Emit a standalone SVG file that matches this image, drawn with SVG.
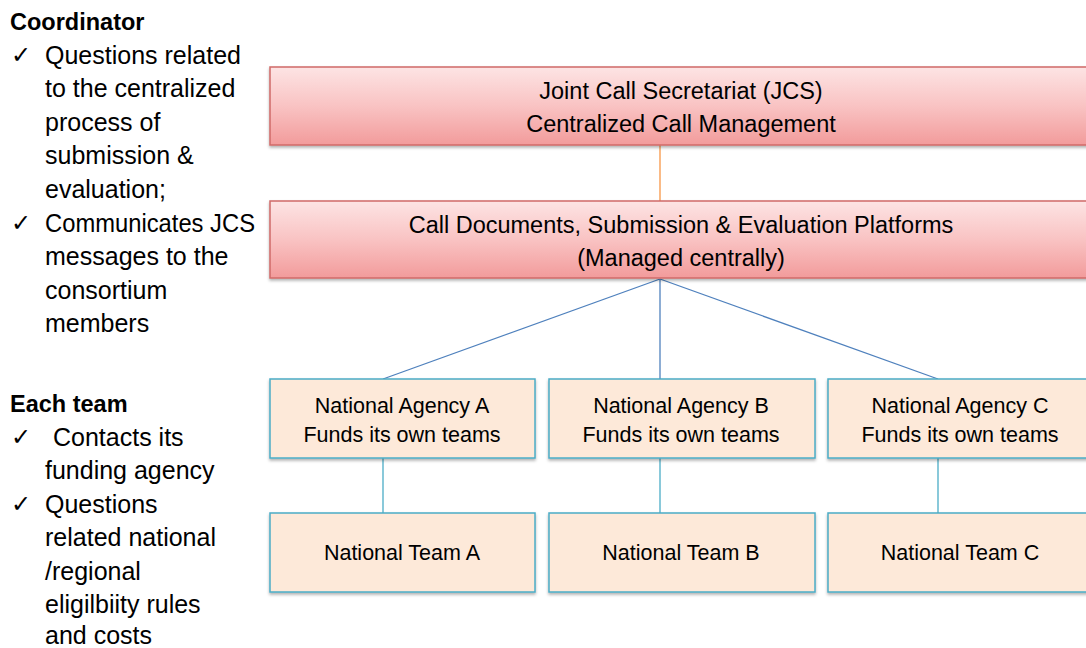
<svg xmlns="http://www.w3.org/2000/svg" width="1086" height="648" viewBox="0 0 1086 648">
<defs>
<linearGradient id="redg" x1="0" y1="0" x2="0" y2="1">
<stop offset="0" stop-color="#fde4e4"/>
<stop offset="0.5" stop-color="#f9c3c3"/>
<stop offset="1" stop-color="#f29b9b"/>
</linearGradient>
<filter id="sh" x="-5%" y="-10%" width="110%" height="130%">
<feDropShadow dx="0" dy="2" stdDeviation="1.5" flood-color="#000" flood-opacity="0.3"/>
</filter>
</defs>
<style>
.red{fill:url(#redg);stroke:#d06a68;stroke-width:1.5;filter:url(#sh)}
.peach{fill:#fde9d9;stroke:#4bacc6;stroke-width:1.5;filter:url(#sh)}
.bt{font-family:"Liberation Sans",Arial,sans-serif;font-size:23.5px;fill:#000;text-anchor:middle}
.st{font-family:"Liberation Sans",Arial,sans-serif;font-size:21.5px;fill:#000;text-anchor:middle}
.lt{font-family:"Liberation Sans",Arial,sans-serif;font-size:25px;fill:#000}
.hd{font-family:"Liberation Sans",Arial,sans-serif;font-size:23.5px;font-weight:bold;fill:#000}
.ck{font-family:"DejaVu Sans",sans-serif;font-size:24px;fill:#000}
</style>
<g id="connectors" fill="none">
<line x1="660" y1="145" x2="660" y2="201" stroke="#f79646" stroke-width="1.3"/>
<line x1="660" y1="279" x2="383" y2="379" stroke="#4f81bd" stroke-width="1.3"/>
<line x1="660" y1="279" x2="660" y2="379" stroke="#4f81bd" stroke-width="1.3"/>
<line x1="660" y1="279" x2="938" y2="379" stroke="#4f81bd" stroke-width="1.3"/>
<line x1="383" y1="458" x2="383" y2="513" stroke="#4bacc6" stroke-width="1.3"/>
<line x1="660" y1="458" x2="660" y2="513" stroke="#4bacc6" stroke-width="1.3"/>
<line x1="938" y1="458" x2="938" y2="513" stroke="#4bacc6" stroke-width="1.3"/>
</g>
<g id="jcs">
<rect class="red" x="270" y="67" width="830" height="78"/>
<text class="bt" x="681" y="99">Joint Call Secretariat (JCS)</text>
<text class="bt" x="681" y="132">Centralized Call Management</text>
</g>
<g id="platforms">
<rect class="red" x="270" y="201" width="830" height="77"/>
<text class="bt" x="681" y="233">Call Documents, Submission &amp; Evaluation Platforms</text>
<text class="bt" x="681" y="266">(Managed centrally)</text>
</g>
<g id="agencyA">
<rect class="peach" x="270" y="379" width="265" height="79"/>
<text class="st" x="402" y="413">National Agency A</text>
<text class="st" x="402" y="442">Funds its own teams</text>
</g>
<g id="agencyB">
<rect class="peach" x="549" y="379" width="266" height="79"/>
<text class="st" x="681" y="413">National Agency B</text>
<text class="st" x="681" y="442">Funds its own teams</text>
</g>
<g id="agencyC">
<rect class="peach" x="828" y="379" width="270" height="79"/>
<text class="st" x="960" y="413">National Agency C</text>
<text class="st" x="960" y="442">Funds its own teams</text>
</g>
<g id="teamA">
<rect class="peach" x="270" y="513" width="265" height="79"/>
<text class="st" x="402" y="560">National Team A</text>
</g>
<g id="teamB">
<rect class="peach" x="549" y="513" width="266" height="79"/>
<text class="st" x="681" y="560">National Team B</text>
</g>
<g id="teamC">
<rect class="peach" x="828" y="513" width="270" height="79"/>
<text class="st" x="960" y="560">National Team C</text>
</g>
<g id="coordinator-notes">
<text class="hd" x="10" y="30">Coordinator</text>
<text class="ck" x="11" y="63">✓</text>
<text class="lt" x="45" y="64">Questions related</text>
<text class="lt" x="45" y="97">to the centralized</text>
<text class="lt" x="45" y="131">process of</text>
<text class="lt" x="45" y="164">submission &amp;</text>
<text class="lt" x="45" y="198">evaluation;</text>
<text class="ck" x="11" y="231">✓</text>
<text class="lt" x="45" y="232" textLength="210" lengthAdjust="spacingAndGlyphs">Communicates JCS</text>
<text class="lt" x="45" y="265">messages to the</text>
<text class="lt" x="45" y="299">consortium</text>
<text class="lt" x="45" y="332">members</text>
</g>
<g id="team-notes">
<text class="hd" x="10" y="412">Each team</text>
<text class="ck" x="11" y="445">✓</text>
<text class="lt" x="53" y="446">Contacts its</text>
<text class="lt" x="45" y="479">funding agency</text>
<text class="ck" x="11" y="512">✓</text>
<text class="lt" x="45" y="513">Questions</text>
<text class="lt" x="45" y="546">related national</text>
<text class="lt" x="45" y="580">/regional</text>
<text class="lt" x="45" y="613">eligilbiity rules</text>
<text class="lt" x="45" y="644">and costs</text>
</g>
</svg>
